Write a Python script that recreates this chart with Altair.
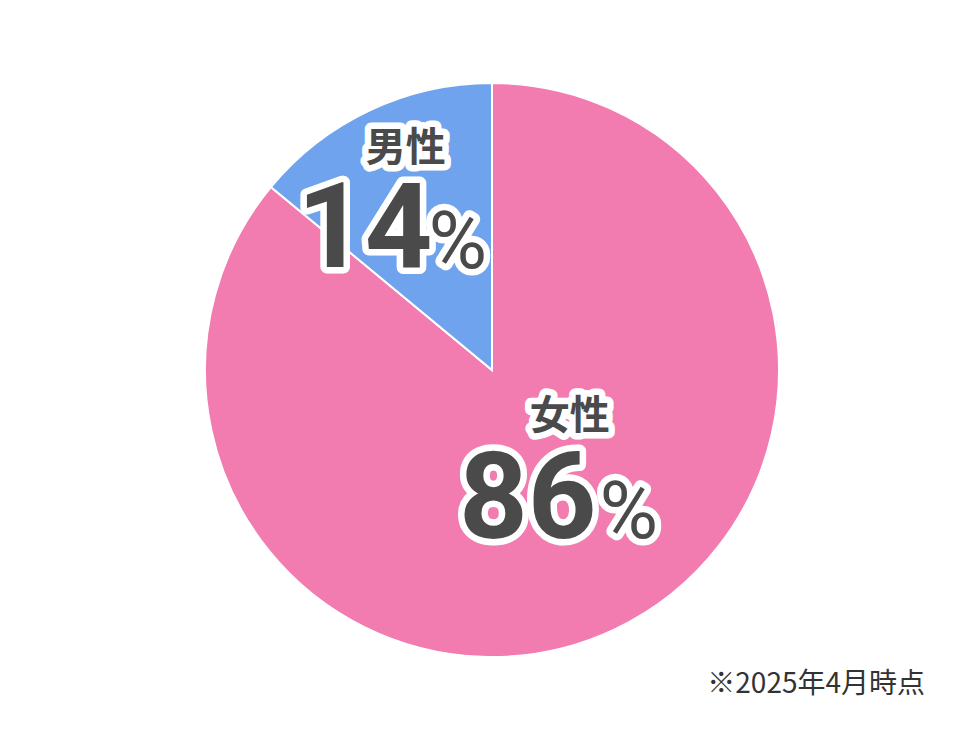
import altair as alt
import pandas as pd

# ---- data ----
categories = ["女性", "男性"]
values = [86, 14]
number_labels = ["86", "14"]
order_idx = [0, 1]
colors = ["#F27BAF", "#6FA3EE"]
footnote = "※2025年4月時点"

df = pd.DataFrame({"cat": categories, "val": values, "num": number_labels, "idx": order_idx})

CX, CY, R = 484, 362, 287
TEXT_COLOR = "#4a4a4a"

base = (
    alt.Chart(df)
    .transform_window(end="sum(val)", sort=[alt.SortField("idx")], frame=[None, 0])
    .transform_calculate(start="datum.end - datum.val", mid="datum.end - datum.val / 2")
)

theta_scale = alt.Scale(domain=[0, 100])

pie = base.mark_arc(outerRadius=R, stroke="white", strokeWidth=2).encode(
    theta=alt.Theta("start:Q", scale=theta_scale),
    theta2="end:Q",
    color=alt.Color("cat:N", scale=alt.Scale(domain=categories, range=colors), legend=None),
    x=alt.value(CX),
    y=alt.value(CY),
)


def text_pair(src, field, r, dx, dy, size, weight, font):
    enc = dict(
        theta=alt.Theta("mid:Q", scale=theta_scale),
        text=alt.Text(field),
        x=alt.value(CX),
        y=alt.value(CY),
    )
    common = dict(radius=r, dx=dx, dy=dy, fontSize=size, fontWeight=weight, font=font,
                  align="center", baseline="alphabetic")
    halo = src.mark_text(**common, fill="white", stroke="white", strokeWidth=13,
                         strokeJoin="round").encode(**enc)
    fg = src.mark_text(**common, fill=TEXT_COLOR).encode(**enc)
    return [halo, fg]


def label(cat, field, r, dx, dy, size, weight, font):
    return text_pair(base.transform_filter(alt.datum.cat == cat), field, r, dx, dy, size, weight, font)


def pct(cat, r, dx, dy, size):
    src = base.transform_filter(alt.datum.cat == cat).transform_calculate(p="'%'")
    return text_pair(src, "p:N", r, dx, dy, size, 400, "Roboto")


CJK = "Noto Sans CJK JP"
layers = [pie]
# male
layers += label("男性", "cat:N", 200, -1, -28, 40, "bold", CJK)
layers += label("男性", "num:N", 200, -42, 78, 118, "bold", "Roboto")
layers += pct("男性", 200, 51, 79, 80)
# female
layers += label("女性", "cat:N", 110, 31, -41, 40, "bold", CJK)
layers += label("女性", "num:N", 110, -11, 68, 120, "bold", "Roboto")
layers += pct("女性", 110, 90, 68, 80)

note = alt.Chart(pd.DataFrame({"t": [footnote]})).mark_text(
    align="right", baseline="alphabetic", fontSize=28, font=CJK, color="#333333"
).encode(text="t:N", x=alt.value(917), y=alt.value(685))
layers.append(note)

chart = (
    alt.layer(*layers)
    .properties(width=952, height=724, padding=0)
    .configure_view(stroke=None)
)

chart.save("out.html", embed_options={"renderer": "svg", "actions": False})
